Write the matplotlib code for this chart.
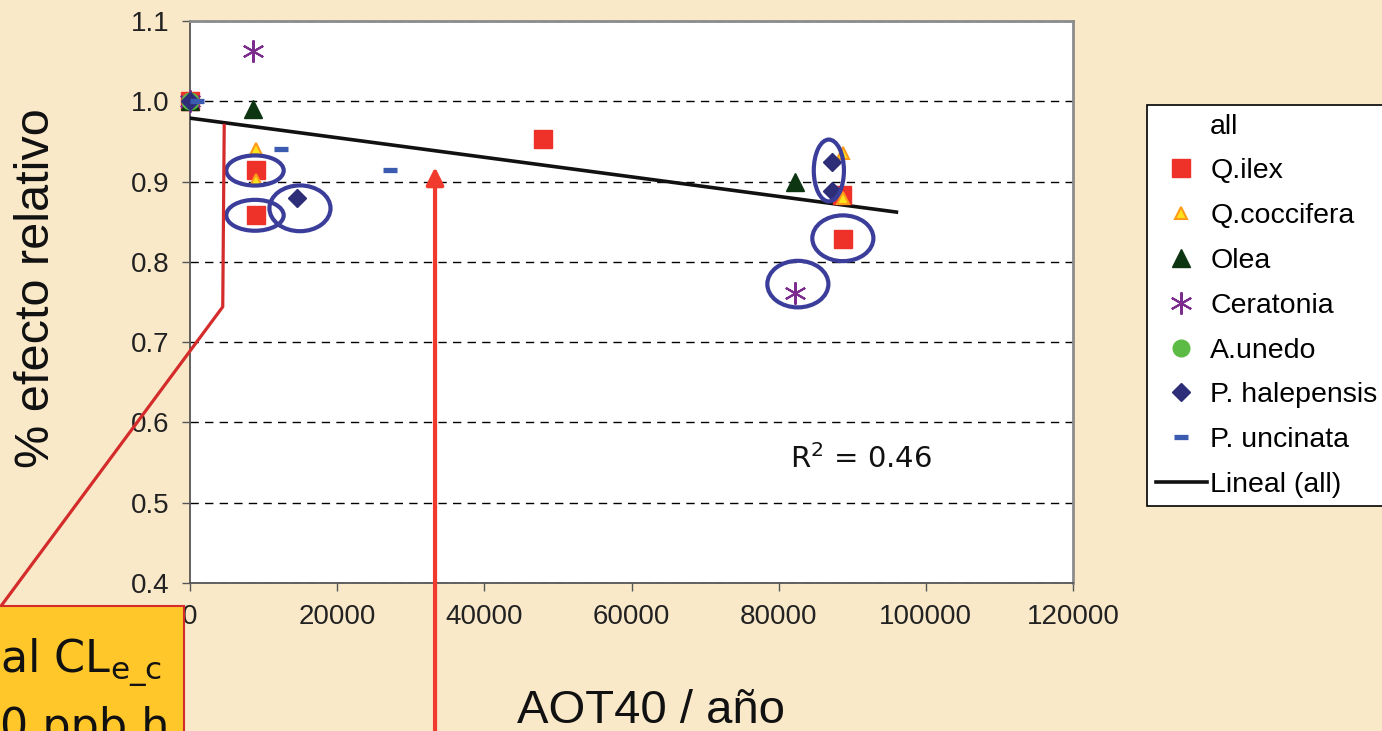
import matplotlib
matplotlib.use('Agg')
import matplotlib.pyplot as plt
from matplotlib.lines import Line2D
from matplotlib.patches import Ellipse, Rectangle

plt.rcParams['font.family'] = ['Liberation Sans', 'DejaVu Sans']

# values
qilex_x = [0, 9000, 9000, 48000, 88600, 88700]
qilex_y = [1.0, 0.915, 0.858, 0.953, 0.883, 0.829]
qcoc_x = [0, 9000, 9000, 88700, 88700]
qcoc_y = [1.0, 0.941, 0.902, 0.935, 0.879]
olea_x = [0, 8500, 82200]
olea_y = [1.0, 0.99, 0.90]
cerat_x = [0, 8500, 82200]
cerat_y = [1.0, 1.063, 0.761]
aunedo_x = [0]
aunedo_y = [1.0]
phal_x = [0, 14500, 87200, 87200]
phal_y = [1.0, 0.880, 0.925, 0.888]
punc_x = [900, 12300, 27200]
punc_y = [1.0, 0.941, 0.914]
trend_x = [0, 96000]
trend_y = [0.979, 0.862]
r2_value = 0.46

x_ticks = [0, 20000, 40000, 60000, 80000, 100000, 120000]
y_ticks = [0.4, 0.5, 0.6, 0.7, 0.8, 0.9, 1.0, 1.1]

# hand drawn annotations (data units)
circle_x = [8832, 8832, 14946, 86821, 88723, 82609]
circle_y = [0.9138, 0.858, 0.8667, 0.9138, 0.8294, 0.7723]
circle_w = [7800, 7800, 8300, 4100, 8300, 8300]
circle_h = [0.0375, 0.0385, 0.057, 0.077, 0.057, 0.058]
bracket_x = [4650, 4450, -27000]
bracket_y = [0.970, 0.744, 0.355]
arrow_x = 33300
arrow_from = 0.20
arrow_to = 0.918

fig = plt.figure(figsize=(13.82, 7.31), dpi=100)
fig.patch.set_facecolor('#f9e9c9')
ax = fig.add_axes([190/1382, 1-583/731, (1073-190)/1382, (583-21)/731])
ax.set_facecolor('white')

ax.set_xlim(0, 120000)
ax.set_ylim(0.4, 1.1)
ax.set_xticks(x_ticks)
ax.set_yticks(y_ticks)
ax.set_xticklabels([str(v) for v in x_ticks])
ax.set_yticklabels(['{:.1f}'.format(v) for v in y_ticks])
ax.tick_params(direction='out', length=6, width=1, color='#555555',
               labelsize=20, labelcolor='#222222', pad=9)
ax.yaxis.grid(True, color='black', linewidth=1, linestyle=(0, (6, 4.5)))
ax.set_axisbelow(True)
for s in ['left', 'bottom']:
    ax.spines[s].set_color('#555555')
    ax.spines[s].set_linewidth(1.3)
for s in ['top', 'right']:
    ax.spines[s].set_color('#8c8c8c')
    ax.spines[s].set_linewidth(2)

ax.plot(trend_x, trend_y, color='#111111', lw=2.6, zorder=3)

kw = dict(linestyle='none', clip_on=False, zorder=4)
ax.plot(qilex_x, qilex_y, marker='s', ms=13, mfc='#ee3229', mec='#ee3229', **kw)
ax.plot(qcoc_x, qcoc_y, marker='^', ms=8, mfc='#ffe21c', mec='#ff9a1a', mew=1.5, **kw)
ax.plot(olea_x, olea_y, marker='^', ms=13, mfc='#0d3512', mec='#0d3512', **kw)
ax.plot(cerat_x, cerat_y, marker=(6, 2, 0), ms=16, mec='#7b2c8c', mew=1.5, **kw)
ax.plot(aunedo_x, aunedo_y, marker='o', ms=12, mfc='#5cbb44', mec='#5cbb44', **kw)
ax.plot(phal_x, phal_y, marker='D', ms=9, mfc='#2e2e78', mec='#2e2e78', **kw)
ax.plot(punc_x, punc_y, marker='_', ms=10, mec='#3a5bb0', mew=3.8, **kw)

ax.text(81500, 0.554, 'R$^2$ = {:.2f}'.format(r2_value), fontsize=21,
        family='DejaVu Sans', va='center', ha='left', color='#111111')

# annotations
for cx, cy, w, h in zip(circle_x, circle_y, circle_w, circle_h):
    ax.add_patch(Ellipse((cx, cy), w, h, fill=False, edgecolor='#3b3d9a',
                         lw=3, zorder=5, clip_on=False))
ax.plot(bracket_x, bracket_y, color='#d42b2b', lw=2.3, clip_on=False, zorder=5)
ax.annotate('', xy=(arrow_x, arrow_to), xytext=(arrow_x, arrow_from),
            arrowprops=dict(arrowstyle='-|>', color='#f03a2e', lw=3,
                            mutation_scale=26, shrinkA=0, shrinkB=0),
            annotation_clip=False, zorder=5)

fig.patches.append(Rectangle((-0.01, -0.01), 0.01 + 184/1382, 0.01 + 1-606/731,
                             transform=fig.transFigure, facecolor='#ffc72a',
                             edgecolor='#d42b2b', lw=1.5, zorder=6))
fig.text(0/1382, 1-672/731, 'al CL$_{\\mathrm{e\\_c}}$', fontsize=32, family='DejaVu Sans',
         ha='left', va='baseline', color='#111111', zorder=7)
fig.text(0/1382, 1-740/731, '0 ppb.h', fontsize=32, family='DejaVu Sans',
         ha='left', va='baseline', color='#111111', zorder=7)

fig.text(37/1382, 1-288/731, '% efecto relativo', fontsize=35, rotation=90,
         ha='center', va='center', color='#111111')
fig.text(651/1382, 1-723/731, 'AOT40 / año', fontsize=34,
         ha='center', va='baseline', color='#111111')

handles = [
    Line2D([], [], linestyle='none', marker='none'),
    Line2D([], [], linestyle='none', marker='s', ms=13, mfc='#ee3229', mec='#ee3229'),
    Line2D([], [], linestyle='none', marker='^', ms=8, mfc='#ffe21c', mec='#ff9a1a', mew=1.5),
    Line2D([], [], linestyle='none', marker='^', ms=13, mfc='#0d3512', mec='#0d3512'),
    Line2D([], [], linestyle='none', marker=(6, 2, 0), ms=16, mec='#7b2c8c', mew=1.5),
    Line2D([], [], linestyle='none', marker='o', ms=12, mfc='#5cbb44', mec='#5cbb44'),
    Line2D([], [], linestyle='none', marker='D', ms=9, mfc='#2e2e78', mec='#2e2e78'),
    Line2D([], [], linestyle='none', marker='_', ms=10, mec='#3a5bb0', mew=3.8),
    Line2D([], [], color='#111111', lw=2.6),
]
labels = ['all', 'Q.ilex', 'Q.coccifera', 'Olea', 'Ceratonia', 'A.unedo',
          'P. halepensis', 'P. uncinata', 'Lineal (all)']
leg = fig.legend(handles, labels, loc='upper left',
                 bbox_to_anchor=(1147/1382, 1-105/731), bbox_transform=fig.transFigure,
                 fontsize=20.5, frameon=True, fancybox=False, edgecolor='black',
                 framealpha=1, handlelength=1.8, handletextpad=0.12,
                 borderpad=0.3, labelspacing=0.66, borderaxespad=0)
leg.get_frame().set_linewidth(1.2)

fig.savefig('out.png', dpi=100, facecolor=fig.get_facecolor())
